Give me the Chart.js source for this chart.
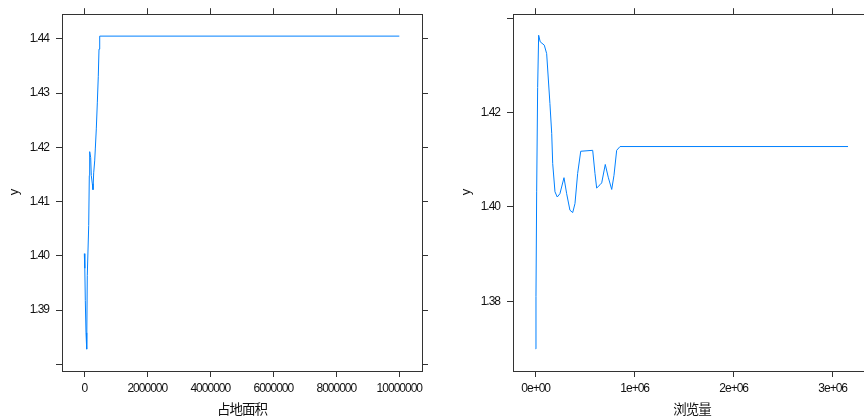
<!DOCTYPE html>
<html>
<head>
<meta charset="utf-8">
<script src="https://cdn.jsdelivr.net/npm/chart.js@4.4.1/dist/chart.umd.min.js"></script>
<style>
  html, body { margin: 0; padding: 0; background: #fff; }
  body { width: 864px; height: 416px; overflow: hidden; position: relative; }
  canvas { position: absolute; top: 0; }
</style>
</head>
<body>
<canvas id="areaChart" width="432" height="416" style="left:0;width:432px;height:416px"></canvas>
<canvas id="viewsChart" width="432" height="416" style="left:452px;width:432px;height:416px"></canvas>
<script>
// partial dependence of y on 占地面积
const areaX = [0, 16000, 32000, 54000, 76000, 95000, 140000, 159000, 171000, 203000, 222000,
               254000, 276000, 298000, 330000, 349000, 381000, 413000, 444000, 467000, 489000, 10000000];
const areaY = [1.4004, 1.3977, 1.3918, 1.3858, 1.3828, 1.3964, 1.4056, 1.4148, 1.4192, 1.4181, 1.4148,
               1.4133, 1.4122, 1.4153, 1.4175, 1.4197, 1.4234, 1.4282, 1.4331, 1.4381, 1.4405, 1.4405];
const areaXTicks = [0, 2000000, 4000000, 6000000, 8000000, 10000000];
const areaXLabels = ["0", "2000000", "4000000", "6000000", "8000000", "10000000"];
const areaYTicks = [1.38, 1.39, 1.40, 1.41, 1.42, 1.43, 1.44];
const areaYLabels = ["", "1.39", "1.40", "1.41", "1.42", "1.43", "1.44"];

// partial dependence of y on 浏览量
const viewsX = [0, 3000, 10000, 20000, 30000, 46000, 87000, 111000, 144000, 162000, 172000, 195000,
                218000, 245000, 286000, 313000, 346000, 374000, 397000, 424000, 455000, 576000,
                599000, 616000, 650000, 667000, 703000, 733000, 768000, 791000, 818000, 852000, 3155000];
const viewsY = [1.3699, 1.3810, 1.4032, 1.4253, 1.4364, 1.4350, 1.4343, 1.4325, 1.4219, 1.4156, 1.4092, 1.4032,
                1.4021, 1.4028, 1.4062, 1.4028, 1.3993, 1.3988, 1.4007, 1.4071, 1.4118, 1.4120,
                1.4071, 1.4040, 1.4047, 1.4051, 1.4090, 1.4063, 1.4037, 1.4067, 1.4120, 1.4128, 1.4128];
const viewsXTicks = [0, 1000000, 2000000, 3000000];
const viewsXLabels = ["0e+00", "1e+06", "2e+06", "3e+06"];
const viewsYTicks = [1.38, 1.40, 1.42, 1.44];
const viewsYLabels = ["1.38", "1.40", "1.42", ""];

const tickFont = { family: "'Liberation Sans', Arial, sans-serif", size: 12 };
const axisCol = "#333";

// tighter text, narrow digits like the R device font
const narrowText = {
  id: "narrowText",
  beforeDraw(chart) { chart.ctx.letterSpacing = "-1px"; }
};

function fixedTicks(values) {
  return s => { s.ticks = values.map(v => ({ value: v })); };
}

function axis(pos, min, max, values, labels, size, title) {
  const horiz = pos === "top" || pos === "bottom";
  const showLabels = labels !== null;
  const cfg = {
    type: "linear",
    position: pos,
    min: min,
    max: max,
    afterBuildTicks: fixedTicks(values),
    afterFit: s => { if (horiz) s.height = size; else s.width = size; },
    grid: { display: true, drawOnChartArea: false, drawTicks: true, tickLength: 6, color: axisCol, lineWidth: 1 },
    border: { display: true, color: axisCol, width: 1 },
    ticks: {
      display: showLabels,
      autoSkip: false,
      maxRotation: 0,
      color: "#111",
      font: tickFont,
      padding: horiz ? 4 : 7,
      callback: (v, i) => showLabels ? labels[i] : ""
    }
  };
  if (title) {
    cfg.title = title;
  }
  return cfg;
}

function makePanel(id, xs, ys, xr, yr, xTicks, xLabels, yTicks, yLabels, xName, sides) {
  const pts = xs.map((x, i) => ({ x: x, y: ys[i] }));
  new Chart(document.getElementById(id), {
    type: "scatter",
    data: {
      datasets: [{
        data: pts,
        showLine: true,
        borderColor: "#0080ff",
        borderWidth: 1,
        pointRadius: 0,
        tension: 0,
        xAxisID: "x",
        yAxisID: "y"
      }]
    },
    plugins: [narrowText],
    options: {
      responsive: false,
      animation: false,
      devicePixelRatio: 1,
      layout: { padding: 0 },
      plugins: { legend: { display: false }, tooltip: { enabled: false } },
      scales: {
        x: axis("bottom", xr[0], xr[1], xTicks, xLabels, 45, {
          display: true, text: xName, color: "#111",
          font: { family: "'Noto Sans CJK SC', sans-serif", size: 13.5, lineHeight: 1 },
          padding: { top: 0, bottom: 0 }
        }),
        x2: axis("top", xr[0], xr[1], xTicks, null, 13),
        y: axis("left", yr[0], yr[1], yTicks, yLabels, sides[0], {
          display: true, text: "y", color: "#111",
          font: { family: "'Liberation Sans', sans-serif", size: 13, lineHeight: 1.2 },
          padding: { top: 7, bottom: 0 }
        }),
        y2: axis("right", yr[0], yr[1], yTicks, null, sides[1])
      }
    }
  });
}

makePanel("areaChart", areaX, areaY, [-708000, 10720000], [1.37877, 1.44454],
  areaXTicks, areaXLabels, areaYTicks, areaYLabels, "占地面积", [62, 10]);
makePanel("viewsChart", viewsX, viewsY, [-229000, 3387000], [1.36521, 1.44086],
  viewsXTicks, viewsXLabels, viewsYTicks, viewsYLabels, "浏览量", [61, 13]);
</script>
</body>
</html>
